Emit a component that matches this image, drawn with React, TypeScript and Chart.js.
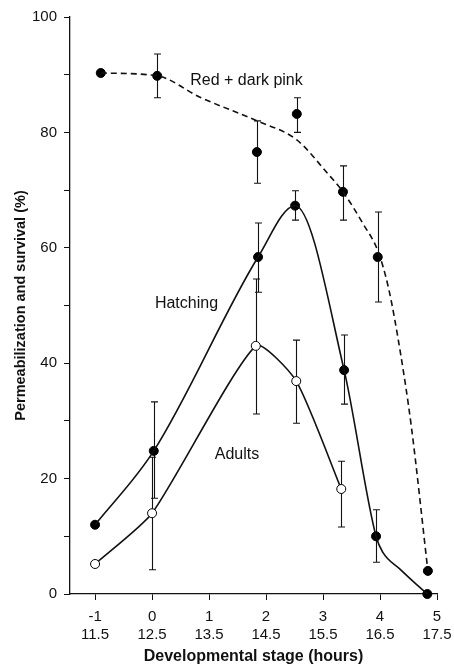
import React, { useEffect, useRef } from "react";
import { Chart, registerables } from "chart.js";

Chart.register(...registerables);

// ---- data ----
const xTicks = [-1, 0, 1, 2, 3, 4, 5];
const xTickHours = ["11.5", "12.5", "13.5", "14.5", "15.5", "16.5", "17.5"];
const yTicks = [0, 10, 20, 30, 40, 50, 60, 70, 80, 90, 100];
const yTickLabels = ["0", "", "20", "", "40", "", "60", "", "80", "", "100"];

const redX = [-0.9, 0.09, 1.84, 2.54, 3.35, 3.96, 4.84];
const redY = [90.3, 89.8, 76.6, 83.2, 69.7, 58.4, 4];
const redErrLow = [null, 86, 71.2, 80, 64.8, 50.6, null];
const redErrHigh = [null, 93.6, 82, 86, 74.2, 66.2, null];

const redFitX = [-0.9, 0.09, 0.84, 1.84, 2.54, 3.07, 3.35, 3.7, 3.96, 4.15, 4.35, 4.55, 4.84];
const redFitY = [90.3, 89.8, 86.1, 82, 78.7, 73, 69.7, 64.2, 59.5, 53, 42.3, 29, 4];

const hatchX = [-1, 0.03, 1.86, 2.51, 3.37, 3.93, 4.83];
const hatchY = [12, 24.8, 58.4, 67.3, 38.8, 10, 0];
const hatchErrLow = [null, 16.6, 52.3, 64.8, 32.9, 5.5, null];
const hatchErrHigh = [null, 33.3, 64.3, 69.9, 44.9, 14.6, null];

const hatchFitX = [-1, 0.03, 1.86, 2.51, 3.37, 3.93, 4.05, 4.35, 4.6, 4.83];
const hatchFitY = [12, 24.8, 58.4, 67.3, 38.8, 10, 7.2, 4.3, 2, 0];

const adultX = [-1, 0, 1.82, 2.53, 3.32];
const adultY = [5.2, 14, 43, 36.9, 18.2];
const adultErrLow = [null, 4.2, 31.2, 29.6, 11.6];
const adultErrHigh = [null, 23.7, 54.6, 44, 23];

const seriesLabels = ["Red + dark pink", "Hatching", "Adults"];
const seriesLabelX = [0.67, 0.05, 1.1];
const seriesLabelY = [89.0, 50.4, 24.1];

const FONT = "'Liberation Sans', Arial, Helvetica, sans-serif";

const zip = (xs: number[], ys: number[]) => xs.map((x, i) => ({ x, y: ys[i] }));

const errorSets = [
  { xs: redX, lo: redErrLow, hi: redErrHigh },
  { xs: hatchX, lo: hatchErrLow, hi: hatchErrHigh },
  { xs: adultX, lo: adultErrLow, hi: adultErrHigh },
];

const errorBarPlugin = {
  id: "errorBars",
  beforeDatasetsDraw(chart: any) {
    const { ctx, scales } = chart;
    const xs = scales.x;
    const ys = scales.y;
    ctx.save();
    ctx.strokeStyle = "#111";
    ctx.lineWidth = 1.1;
    errorSets.forEach((s) => {
      s.xs.forEach((xv, i) => {
        const lo = s.lo[i];
        const hi = s.hi[i];
        if (lo == null || hi == null) return;
        const px = Math.round(xs.getPixelForValue(xv)) + 0.5;
        const pl = ys.getPixelForValue(lo);
        const ph = ys.getPixelForValue(hi);
        ctx.beginPath();
        ctx.moveTo(px, pl);
        ctx.lineTo(px, ph);
        ctx.moveTo(px - 3.5, pl);
        ctx.lineTo(px + 3.5, pl);
        ctx.moveTo(px - 3.5, ph);
        ctx.lineTo(px + 3.5, ph);
        ctx.stroke();
      });
    });
    ctx.restore();
  },
};

const labelPlugin = {
  id: "seriesLabels",
  afterDatasetsDraw(chart: any) {
    const { ctx, scales } = chart;
    ctx.save();
    ctx.fillStyle = "#111";
    ctx.font = `16px ${FONT}`;
    ctx.textAlign = "left";
    ctx.textBaseline = "middle";
    seriesLabels.forEach((t, i) => {
      ctx.fillText(t, scales.x.getPixelForValue(seriesLabelX[i]), scales.y.getPixelForValue(seriesLabelY[i]));
    });
    ctx.restore();
  },
};

export default function App() {
  const ref = useRef<HTMLCanvasElement | null>(null);
  useEffect(() => {
    if (!ref.current) return;
    const chart = new Chart(ref.current, {
      type: "scatter",
      data: {
        datasets: [
          {
            data: zip(redFitX, redFitY),
            showLine: true,
            borderColor: "#111",
            borderWidth: 1.6,
            borderDash: [6, 4],
            pointRadius: 0,
            cubicInterpolationMode: "monotone",
            fill: false,
          },
          {
            data: zip(hatchFitX, hatchFitY),
            showLine: true,
            borderColor: "#111",
            borderWidth: 1.6,
            cubicInterpolationMode: "monotone",
            pointRadius: 0,
            fill: false,
          },
          {
            data: zip(adultX, adultY),
            showLine: true,
            borderColor: "#111",
            borderWidth: 1.6,
            tension: 0.2,
            pointRadius: 4.5,
            pointBackgroundColor: "#fff",
            pointBorderColor: "#000",
            pointBorderWidth: 1,
          },
          {
            data: zip(redX, redY),
            showLine: false,
            pointRadius: 4.5,
            pointBackgroundColor: "#000",
            pointBorderColor: "#000",
            pointBorderWidth: 1,
          },
          {
            data: zip(hatchX, hatchY),
            showLine: false,
            pointRadius: 4.5,
            pointBackgroundColor: "#000",
            pointBorderColor: "#000",
            pointBorderWidth: 1,
          },
        ],
      },
      options: {
        animation: false,
        responsive: false,
        clip: false as any,
        layout: { padding: { left: 0, right: 17, top: 17, bottom: 0 } },
        plugins: { legend: { display: false }, tooltip: { enabled: false } },
        scales: {
          x: {
            type: "linear",
            min: -1.44,
            max: 5,
            afterBuildTicks: (s: any) => {
              s.ticks = xTicks.map((v) => ({ value: v }));
            },
            afterFit: (s: any) => {
              s.height = 74;
              s.paddingLeft = 0;
              s.paddingRight = 0;
            },
            grid: { drawOnChartArea: false, drawTicks: true, tickLength: 6, color: "#111" },
            border: { display: true, color: "#111", width: 1.3 },
            ticks: {
              color: "#111",
              padding: 8,
              maxRotation: 0,
              autoSkip: false,
              font: { family: FONT, size: 15, lineHeight: 1.2 },
              callback: (v: any) => {
                const i = xTicks.indexOf(Number(v));
                return i < 0 ? "" : [String(xTicks[i]), xTickHours[i]];
              },
            },
            title: {
              display: true,
              text: "Developmental stage (hours)",
              color: "#111",
              font: { family: FONT, size: 16, weight: "bold", lineHeight: 1.2 },
              padding: { top: 0, bottom: 2 },
            },
          },
          y: {
            type: "linear",
            min: 0,
            max: 100,
            afterBuildTicks: (s: any) => {
              s.ticks = yTicks.map((v) => ({ value: v }));
            },
            afterFit: (s: any) => {
              s.width = 70;
              s.paddingTop = 0;
              s.paddingBottom = 0;
            },
            grid: { drawOnChartArea: false, drawTicks: true, tickLength: 6, color: "#111" },
            border: { display: true, color: "#111", width: 1.3 },
            ticks: {
              color: "#111",
              padding: 7,
              autoSkip: false,
              font: { family: FONT, size: 15 },
              callback: (v: any) => {
                const i = yTicks.indexOf(Number(v));
                return i < 0 ? "" : yTickLabels[i];
              },
            },
            title: {
              display: true,
              text: "Permeabilization and survival (%)",
              color: "#111",
              font: { family: FONT, size: 14.5, weight: "bold", lineHeight: 1.2 },
              padding: { top: 12, bottom: 0 },
            },
          },
        },
      },
      plugins: [errorBarPlugin, labelPlugin],
    } as any);
    return () => chart.destroy();
  }, []);
  return (
    <div style={{ position: "fixed", left: 0, top: 0, width: 454, height: 668, background: "#fff" }}>
      <canvas ref={ref} width={454} height={668} />
    </div>
  );
}
